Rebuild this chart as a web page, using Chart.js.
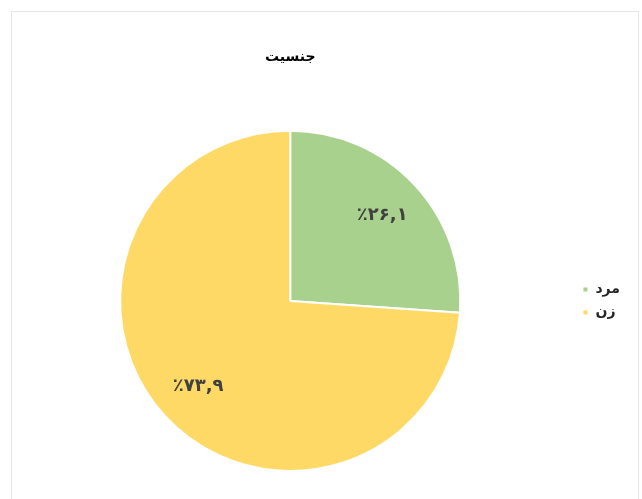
<!DOCTYPE html>
<html>
<head>
<meta charset="utf-8">
<script src="https://cdn.jsdelivr.net/npm/chart.js@4/dist/chart.umd.min.js"></script>
<style>
  html, body { margin: 0; padding: 0; background: #fff; }
  #wrap { position: relative; width: 642px; height: 499px; }
</style>
</head>
<body>
<div id="wrap"><canvas id="pie" width="642" height="499"></canvas></div>
<script>
(() => {
  const labels = ['مرد', 'زن'];
  const values = [26.1, 73.9];
  const colors = ['#a9d18e', '#ffd966'];
  const title = 'جنسیت';

  const FONT = "'DejaVu Sans', sans-serif";

  function faDigits(v) {
    return '٪' + String(v).replace(/\d/g, d => '۰۱۲۳۴۵۶۷۸۹'[d]).replace('.', ',');
  }

  // white background and the thin grey frame round the chart
  const frame = {
    id: 'frame',
    beforeDraw(chart) {
      const ctx = chart.ctx;
      ctx.save();
      ctx.fillStyle = '#fff';
      ctx.fillRect(0, 0, chart.width, chart.height);
      ctx.strokeStyle = '#e6e6e6';
      ctx.lineWidth = 1;
      ctx.strokeRect(11.5, 11.5, chart.width - 15, chart.height + 10);
      ctx.restore();
    }
  };

  // percentage labels inside each slice
  const sliceLabels = {
    id: 'sliceLabels',
    afterDatasetsDraw(chart) {
      const ctx = chart.ctx;
      const meta = chart.getDatasetMeta(0);
      ctx.save();
      ctx.font = 'bold 18px ' + FONT;
      ctx.fillStyle = '#404040';
      ctx.textAlign = 'center';
      ctx.textBaseline = 'middle';
      ctx.direction = 'ltr';
      meta.data.forEach((arc, i) => {
        const p = arc.getProps(['x', 'y', 'startAngle', 'endAngle', 'outerRadius'], true);
        const mid = (p.startAngle + p.endAngle) / 2;
        const r = p.outerRadius * 0.74;
        ctx.fillText(faDigits(values[i]), p.x + Math.cos(mid) * r, p.y + Math.sin(mid) * r);
      });
      ctx.restore();
    }
  };

  new Chart(document.getElementById('pie'), {
    type: 'pie',
    data: {
      labels,
      datasets: [{
        data: values,
        backgroundColor: colors,
        borderColor: '#fff',
        borderWidth: 2
      }]
    },
    options: {
      responsive: false,
      animation: false,
      layout: { padding: { top: 0, bottom: 27, left: 7, right: 12 } },
      plugins: {
        title: {
          display: true,
          text: title,
          fullSize: false,
          color: '#000',
          font: { family: FONT, size: 14, weight: 'bold' },
          padding: { top: 49, bottom: 64 }
        },
        legend: {
          position: 'right',
          fullSize: false,
          labels: {
            boxWidth: 6,
            boxHeight: 6,
            padding: 9,
            color: '#262626',
            font: { family: FONT, size: 14, weight: 'bold' }
          }
        },
        tooltip: { enabled: false }
      }
    },
    plugins: [frame, sliceLabels]
  });
})();
</script>
</body>
</html>
